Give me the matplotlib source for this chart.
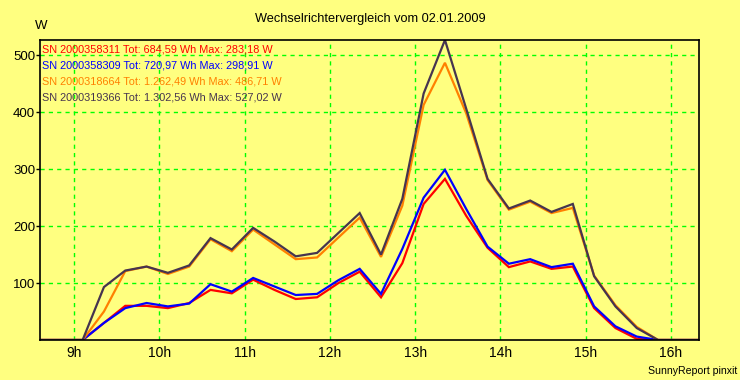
import numpy as np
import matplotlib
matplotlib.use("Agg")
import matplotlib.pyplot as plt

plt.rcParams['font.family'] = ['Liberation Sans', 'DejaVu Sans']

# 15 minute values, starting at 8:36
start_h = 8.6
step_h = 0.25

sn_358311 = [0, 0, 0, 30, 60, 60, 56, 65, 88, 82, 106, 88, 72, 75, 100, 120, 75,
             135, 239, 283, 218, 162, 128, 138, 125, 129, 56, 21, 2, 0, 0, 0]
sn_358309 = [0, 0, 0, 30, 56, 65, 59, 64, 98, 85, 109, 94, 79, 81, 105, 125, 81,
             160, 250, 299, 230, 164, 134, 142, 128, 134, 59, 24, 6, 0, 0, 0]
sn_318664 = [0, 0, 0, 50, 121, 129, 116, 129, 177, 156, 194, 168, 142, 145, 180, 215, 146,
             236, 413, 487, 398, 281, 229, 243, 223, 232, 113, 61, 23, 0, 0, 0]
sn_319366 = [0, 0, 0, 93, 122, 129, 118, 131, 179, 159, 197, 173, 147, 153, 188, 223, 150,
             248, 433, 527, 406, 283, 231, 245, 225, 239, 112, 59, 21, 0, 0, 0]

labels = ['SN 2000358311 Tot: 684,59 Wh Max: 283,18 W',
          'SN 2000358309 Tot: 720,97 Wh Max: 298,91 W',
          'SN 2000318664 Tot: 1.262,49 Wh Max: 486,71 W',
          'SN 2000319366 Tot: 1.302,56 Wh Max: 527,02 W']
colors = ['#ff0000', '#0000ff', '#ff8000', '#46344f']

hours = [9, 10, 11, 12, 13, 14, 15, 16]
yticks = [100, 200, 300, 400, 500]

t = start_h + step_h * np.arange(len(sn_358311))

bg = '#ffff80'
fig = plt.figure(figsize=(7.4, 3.8), dpi=100, facecolor=bg)
ax = fig.add_axes([40 / 740, 40 / 380, 659 / 740, 300 / 380])
ax.set_facecolor(bg)

for ys, c in zip([sn_358311, sn_358309, sn_318664, sn_319366], colors):
    ax.plot(t, ys, color=c, lw=1.6, solid_joinstyle='miter')

ax.set_xlim(t[0], t[-1] - 0.02)
ax.set_ylim(0, 527.02)
ax.set_xticks(hours)
ax.set_xticklabels(['%dh' % h for h in hours])
ax.set_yticks(yticks)
ax.tick_params(axis='x', length=0, pad=4, labelsize=10)
ax.tick_params(axis='y', length=3, width=1, pad=0.5, labelsize=9.5)
ax.grid(True, color='#00ff00', linestyle=(0, (3, 3)), lw=1)
for s in ax.spines.values():
    s.set_color('black')
    s.set_linewidth(1.2)

for i, (lab, c) in enumerate(zip(labels, colors)):
    ax.text(2 / 659, 1 - (4 + 16.3 * i) / 300, lab, color=c, fontsize=7.8,
            transform=ax.transAxes, ha='left', va='top')

fig.text(0.5, 1 - 19 / 380, 'Wechselrichtervergleich vom 02.01.2009',
         ha='center', va='center', fontsize=9.2)
fig.text(35 / 740, 1 - 26 / 380, 'W', ha='left', va='center', fontsize=9.5)
fig.text(737 / 740, 1 - 371 / 380, 'SunnyReport pinxit', ha='right', va='center',
         fontsize=7.6)

fig.savefig('out.png', dpi=100, facecolor=bg)
